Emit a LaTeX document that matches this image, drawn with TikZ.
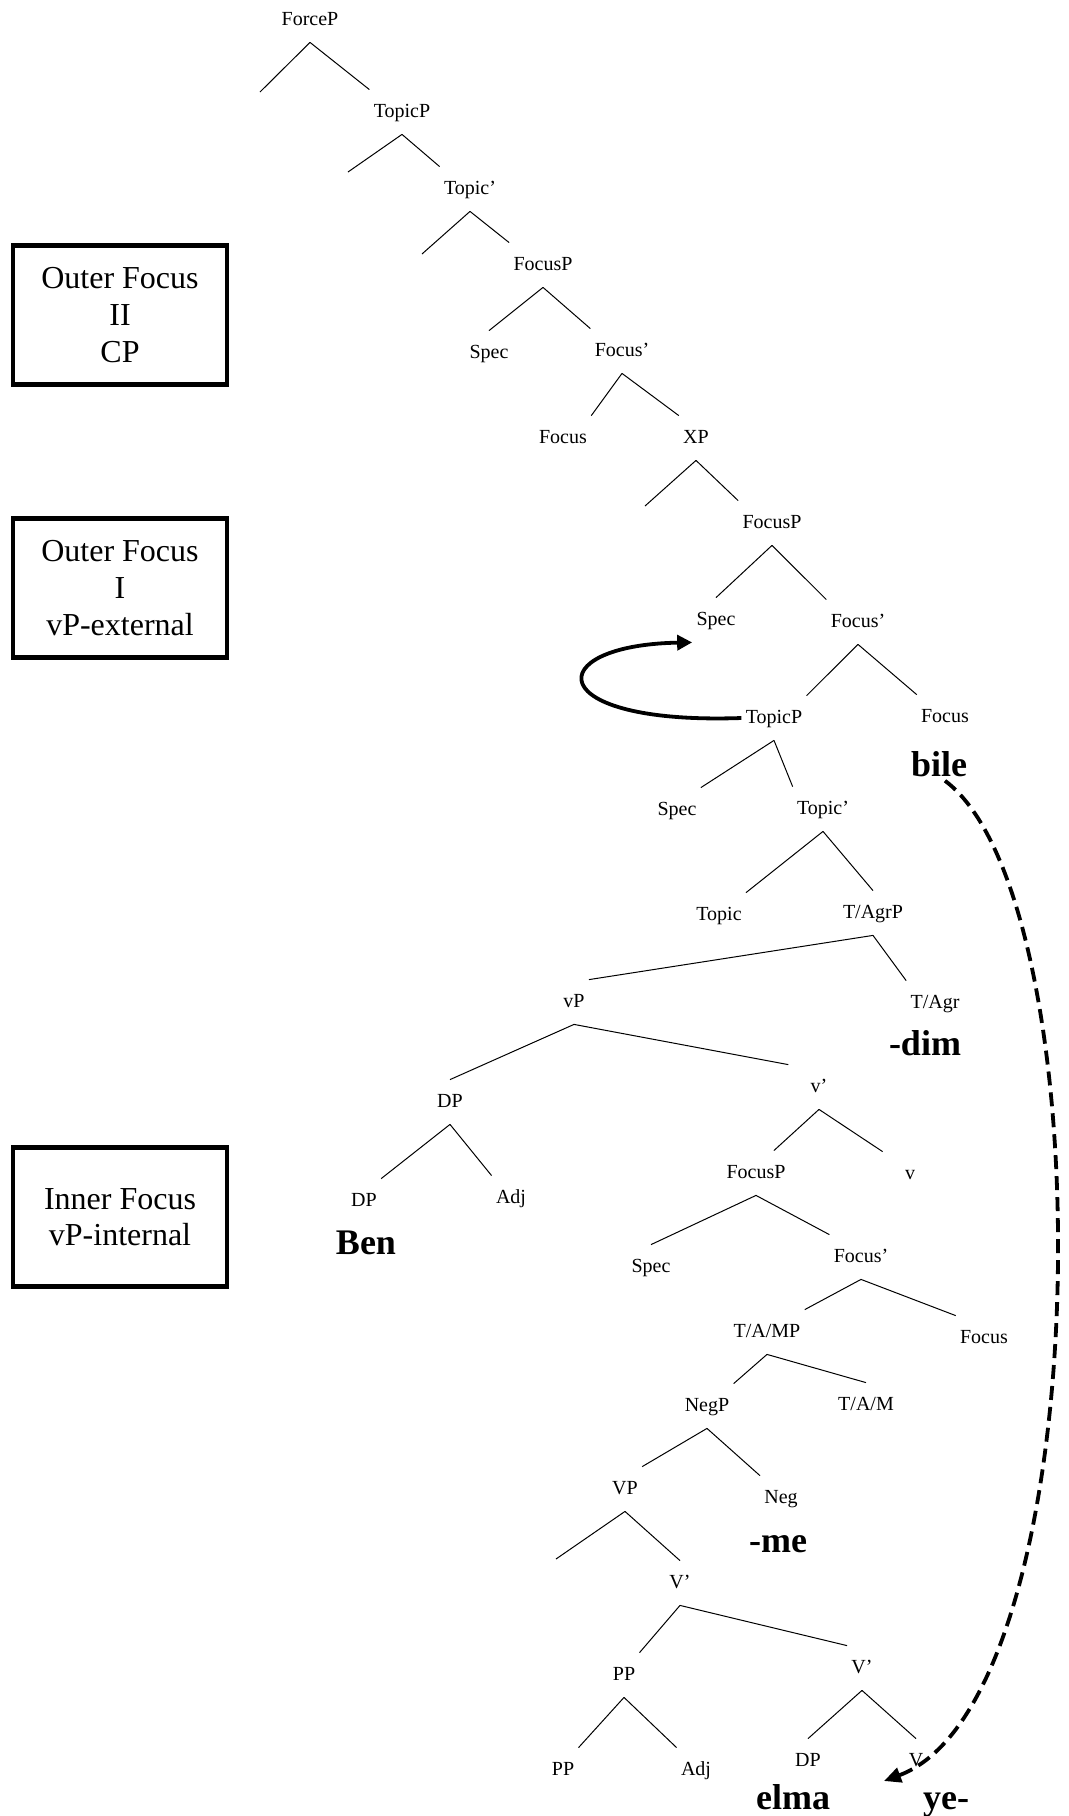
\documentclass[tikz,border=0pt]{standalone}
\usepackage{fontspec}
\setmainfont{Liberation Serif}
\usetikzlibrary{arrows.meta}

\begin{document}
\begin{tikzpicture}[
    x=0.5pt, y=-0.5pt,
    lbl/.style={font=\fontsize{10}{12}\selectfont, text height=7pt, text depth=2pt, inner xsep=2pt, inner ysep=6.5pt},
    word/.style={font=\fontsize{18}{20}\selectfont\bfseries, anchor=base, inner sep=2pt},
    infobox/.style={draw, line width=2.2pt, align=center, minimum width=107pt, minimum height=69.5pt, font=\fontsize{16}{18.3}\selectfont},
    branch/.style={line width=0.5pt},
    movearrow/.style={line width=1.9pt, -{Triangle[length=7.5pt,width=7.5pt]}},
    dashmove/.style={line width=1.9pt, dash pattern=on 7pt off 3.5pt, -{Triangle[length=8.5pt,width=7.5pt]}}
]
\useasboundingbox (0,0) rectangle (1069,1816);

% --- Boxes on the left ---
\node[infobox] (outerII) at (120,315) {Outer Focus\\II\\CP};
\node[infobox] (outerI) at (120,588) {Outer Focus\\I\\vP-external};
\node[infobox] (inner) at (120,1217) {Inner Focus\\vP-internal};

% --- CP layer ---
\node[lbl] (forceP) at (310,20) {ForceP};
\node[lbl] (topicP) at (402,112) {TopicP};
\node[lbl] (topicbar) at (470,189) {Topic’};
\node[lbl] (focusPa) at (543,265) {FocusP};
\node[lbl] (specA) at (489,353) {Spec};
\node[lbl] (focusbarA) at (622,351) {Focus’};
\node[lbl] (focusA) at (563,438) {Focus};
\node[lbl] (xp) at (696,438) {XP};
\coordinate (e1) at (260,92);
\coordinate (e2) at (348,172);
\coordinate (e3) at (422,254);
\coordinate (e4) at (645,506);

\draw[branch] (forceP.south) -- (e1);
\draw[branch] (forceP.south) -- (topicP.north west);
\draw[branch] (topicP.south) -- (e2);
\draw[branch] (topicP.south) -- (topicbar.north west);
\draw[branch] (topicbar.south) -- (e3);
\draw[branch] (topicbar.south) -- (focusPa.north west);
\draw[branch] (focusPa.south) -- (specA.north);
\draw[branch] (focusPa.south) -- (focusbarA.north west);
\draw[branch] (focusbarA.south) -- (focusA.north east);
\draw[branch] (focusbarA.south) -- (xp.north west);

% --- vP-external layer ---
\node[lbl] (focusPb) at (772,523) {FocusP};
\node[lbl] (specB) at (716,620) {Spec};
\node[lbl] (focusbarB) at (858,622) {Focus’};
\node[lbl] (topicPb) at (774,718) {TopicP};
\node[lbl] (focusB) at (945,717) {Focus};
\node[word] (bile) at (939,776) {bile};
\node[lbl] (specC) at (677,810) {Spec};
\node[lbl] (topicbarB) at (823,809) {Topic’};
\node[lbl] (topicB) at (719,915) {Topic};
\node[lbl] (tagrP) at (873,913) {T/AgrP};
\node[lbl] (tagr) at (935,1003) {T/Agr};
\node[word] (dim) at (925,1055) {-dim};

\draw[branch] (xp.south) -- (e4);
\draw[branch] (xp.south) -- (focusPb.north west);
\draw[branch] (focusPb.south) -- (specB.north);
\draw[branch] (focusPb.south) -- (focusbarB.north west);
\draw[branch] (focusbarB.south) -- (topicPb.north east);
\draw[branch] (focusbarB.south) -- (focusB.north west);
\draw[branch] (topicPb.south) -- (specC.north east);
\draw[branch] (topicPb.south) -- (topicbarB.north west);
\draw[branch] (topicbarB.south) -- (topicB.north east);
\draw[branch] (topicbarB.south) -- (tagrP.north);
\draw[branch] (tagrP.south) -- (tagr.north west);

% --- vP ---
\node[lbl] (vP) at (574,1002) {vP};
\node[lbl] (dpA) at (450,1102) {DP};
\node[lbl] (vbar) at (819,1087) {v’};
\node[lbl] (dpB) at (364,1201) {DP};
\node[lbl] (adjA) at (511,1198) {Adj};
\node[word] (ben) at (366,1254) {Ben};
\node[lbl] (focusPc) at (756,1173) {FocusP};
\node[lbl] (v) at (910,1174) {v};
\node[lbl] (specD) at (651,1267) {Spec};
\node[lbl] (focusbarC) at (861,1257) {Focus’};
\node[lbl] (tamP) at (767,1332) {T/A/MP};
\node[lbl] (focusC) at (984,1338) {Focus};

\draw[branch] (tagrP.south) -- (vP.north east);
\draw[branch] (vP.south) -- (dpA.north);
\draw[branch] (vP.south) -- ([xshift=-9pt]vbar.north west);
\draw[branch] (dpA.south) -- (dpB.north east);
\draw[branch] (dpA.south) -- (adjA.north west);
\draw[branch] (vbar.south) -- ([xshift=-8pt]focusPc.north east);
\draw[branch] (vbar.south) -- ([xshift=-9pt]v.north west);
\draw[branch] (focusPc.south) -- (specD.north);
\draw[branch] (focusPc.south) -- (focusbarC.north west);
\draw[branch] (focusbarC.south) -- (tamP.north east);
\draw[branch] (focusbarC.south) -- (focusC.north west);

% --- NegP and VP ---
\node[lbl] (negP) at (707,1406) {NegP};
\node[lbl] (tam) at (866,1405) {T/A/M};
\node[lbl] (vpP) at (625,1489) {VP};
\node[lbl] (neg) at (781,1498) {Neg};
\node[word] (me) at (778,1552) {-me};
\node[lbl] (vbarA) at (680,1583) {V’};
\node[lbl] (ppA) at (624,1675) {PP};
\node[lbl] (vbarB) at (862,1668) {V’};
\node[lbl] (ppB) at (563,1770) {PP};
\node[lbl] (adjB) at (696,1770) {Adj};
\node[lbl] (dpC) at (808,1761) {DP};
\node[lbl] (verb) at (916,1761) {V};
\node[word] (elma) at (793,1809) {elma};
\node[word] (ye) at (946,1809) {ye-};
\coordinate (e5) at (556,1559);

\draw[branch] (tamP.south) -- (negP.north east);
\draw[branch] (tamP.south) -- (tam.north);
\draw[branch] (negP.south) -- (vpP.north east);
\draw[branch] (negP.south) -- (neg.north west);
\draw[branch] (vpP.south) -- (e5);
\draw[branch] (vpP.south) -- (vbarA.north);
\draw[branch] (vbarA.south) -- (ppA.north east);
\draw[branch] (vbarA.south) -- (vbarB.north west);
\draw[branch] (ppA.south) -- (ppB.north east);
\draw[branch] (ppA.south) -- (adjB.north west);
\draw[branch] (vbarB.south) -- (dpC.north);
\draw[branch] (vbarB.south) -- (verb.north);

% --- movement arrows ---
\coordinate (tipY) at (884,1781);
\draw[movearrow] (topicPb.west) .. controls (540,725) and (540,645) .. (specB.south west);
\draw[dashmove] ([xshift=3pt]bile.south) .. controls (1105,900) and (1100,1700) .. (tipY);

\end{tikzpicture}
\end{document}
